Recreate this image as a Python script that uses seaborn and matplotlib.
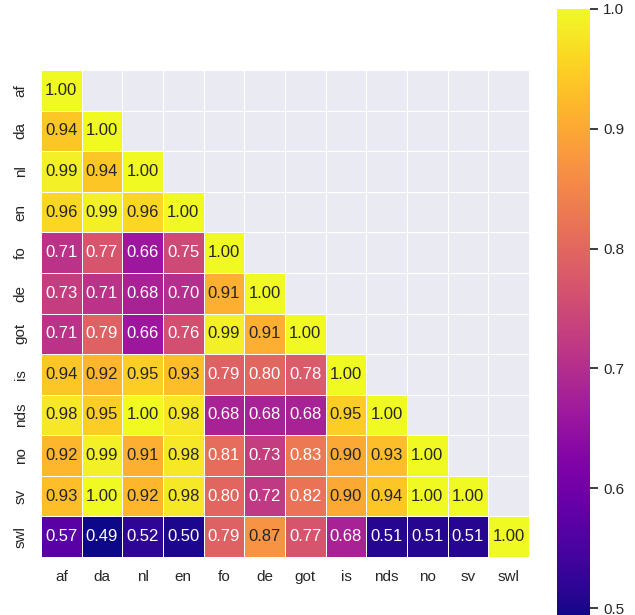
import numpy as np
import pandas as pd
import matplotlib
matplotlib.use("Agg")
import matplotlib.pyplot as plt
import seaborn as sns

langs = ["af", "da", "nl", "en", "fo", "de", "got", "is", "nds", "no", "sv", "swl"]

row_af = [1.00]
row_da = [0.94, 1.00]
row_nl = [0.99, 0.94, 1.00]
row_en = [0.96, 0.99, 0.96, 1.00]
row_fo = [0.71, 0.77, 0.66, 0.75, 1.00]
row_de = [0.73, 0.71, 0.68, 0.70, 0.91, 1.00]
row_got = [0.71, 0.79, 0.66, 0.76, 0.99, 0.91, 1.00]
row_is = [0.94, 0.92, 0.95, 0.93, 0.79, 0.80, 0.78, 1.00]
row_nds = [0.98, 0.95, 1.00, 0.98, 0.68, 0.68, 0.68, 0.95, 1.00]
row_no = [0.92, 0.99, 0.91, 0.98, 0.81, 0.73, 0.83, 0.90, 0.93, 1.00]
row_sv = [0.93, 1.00, 0.92, 0.98, 0.80, 0.72, 0.82, 0.90, 0.94, 1.00, 1.00]
row_swl = [0.57, 0.49, 0.52, 0.50, 0.79, 0.87, 0.77, 0.68, 0.51, 0.51, 0.51, 1.00]

rows = [row_af, row_da, row_nl, row_en, row_fo, row_de, row_got,
        row_is, row_nds, row_no, row_sv, row_swl]

n = len(langs)
mat = np.full((n, n), np.nan)
for i, r in enumerate(rows):
    for j, v in enumerate(r):
        mat[i, j] = v
        mat[j, i] = v
df = pd.DataFrame(mat, index=langs, columns=langs)
mask = np.triu(np.ones_like(mat, dtype=bool), k=1)

sns.set_theme(style="darkgrid")
plt.rcParams["font.family"] = ["Liberation Sans", "DejaVu Sans"]

W, H = 635, 615
fig = plt.figure(figsize=(W / 100, H / 100), dpi=100)
ax = fig.add_axes([41 / W, 1 - 557 / H, 488 / W, 487 / H])
cax = fig.add_axes([557 / W, 1 - 620 / H, 33 / W, 611 / H])

sns.heatmap(df, mask=mask, cmap="plasma", annot=True, fmt=".2f",
            linewidths=0.5, linecolor="white", square=False,
            ax=ax, cbar_ax=cax)
ax.grid(False)
ax.tick_params(axis="x", rotation=0)
ax.tick_params(axis="y", rotation=90)
for lab in ax.get_yticklabels():
    lab.set_va("center")

fig.savefig("out.png", dpi=100)
